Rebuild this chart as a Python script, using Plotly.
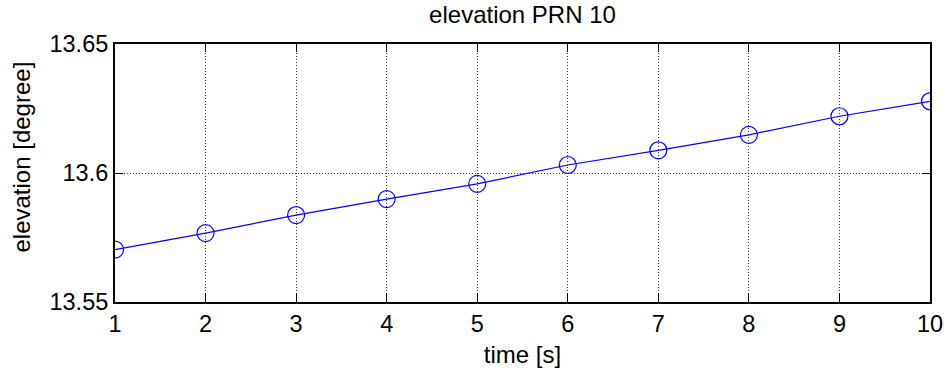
import plotly.graph_objects as go

time_s = [1, 2, 3, 4, 5, 6, 7, 8, 9, 10]
elevation = [13.5703, 13.5767, 13.5837, 13.5899, 13.5958, 13.6031, 13.6088, 13.6148, 13.6220, 13.6278]
x_ticks = [1, 2, 3, 4, 5, 6, 7, 8, 9, 10]
y_ticks = [13.55, 13.6, 13.65]
y_tick_text = ["13.55", "13.6", "13.65"]

fig = go.Figure()
fig.add_trace(go.Scatter(
    x=time_s, y=elevation, mode="lines+markers",
    line=dict(color="#0000ff", width=1.2),
    marker=dict(symbol="circle-open", size=17, color="#0000ff", line=dict(width=1.2)),
    showlegend=False,
))

font = "Liberation Sans, Arial, Helvetica, sans-serif"
fig.update_layout(
    width=947, height=374,
    margin=dict(l=115, r=17, t=44, b=72, autoexpand=False),
    paper_bgcolor="white", plot_bgcolor="white",
    font=dict(family=font, color="black"),
    title=dict(text="elevation PRN 10", x=0.5, xanchor="center", xref="paper",
               y=1 - 15 / 374, yanchor="middle", yref="container",
               font=dict(size=24, family=font, color="black")),
)
fig.add_annotation(
    text="elevation [degree]", textangle=-90, showarrow=False,
    xref="paper", yref="paper", x=-(115 - 21) / 815, y=(302 - 157.5) / 258,
    xanchor="center", yanchor="middle", font=dict(size=24, family=font, color="black"),
)
grid_dash = "1px,2px"
fig.update_xaxes(
    range=[1, 10], tickvals=x_ticks, ticks="inside", ticklen=8, tickcolor="black",
    tickwidth=1,
    showline=True, linecolor="black", linewidth=2, mirror="ticks",
    showgrid=True, gridcolor="#333333", griddash=grid_dash, gridwidth=1,
    zeroline=False, tickfont=dict(size=23.5), automargin=False,
    title=dict(text="time [s]", font=dict(size=24), standoff=10),
)
fig.update_yaxes(
    range=[13.55, 13.65], tickvals=y_ticks, ticktext=y_tick_text, ticks="inside",
    ticklen=8, tickcolor="black", tickwidth=1,
    showline=True, linecolor="black", linewidth=2, mirror="ticks",
    showgrid=True, gridcolor="#333333", griddash=grid_dash, gridwidth=1,
    zeroline=False, tickfont=dict(size=23.5), automargin=False,
)
fig.write_html("out.html")
